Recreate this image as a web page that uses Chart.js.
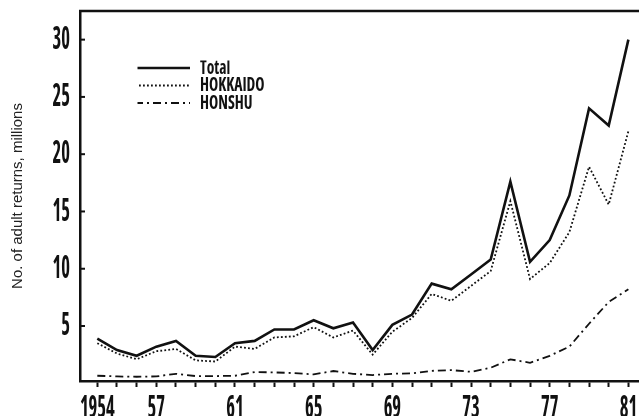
<!DOCTYPE html>
<html>
<head>
<meta charset="utf-8">
<script src="https://cdn.jsdelivr.net/npm/chart.js@4/dist/chart.umd.min.js"></script>
<style>
  html, body { margin: 0; padding: 0; background: #fff; }
  #wrap { width: 639px; height: 416px; }
</style>
</head>
<body>
<div id="wrap"><canvas id="c" width="639" height="416"></canvas></div>
<script>
// Adult chum salmon returns to Japan, by year (millions of fish)
const years = [1954, 1955, 1956, 1957, 1958, 1959, 1960, 1961, 1962, 1963, 1964, 1965, 1966, 1967,
               1968, 1969, 1970, 1971, 1972, 1973, 1974, 1975, 1976, 1977, 1978, 1979, 1980, 1981];
const total    = [3.9, 2.9, 2.4, 3.2, 3.7, 2.4, 2.3, 3.5, 3.7, 4.7, 4.7, 5.5, 4.8, 5.3,
                  2.9, 5.1, 6.0, 8.7, 8.2, 9.5, 10.8, 17.6, 10.6, 12.5, 16.4, 24.0, 22.5, 30.0];
const hokkaido = [3.5, 2.6, 2.1, 2.8, 3.0, 2.0, 1.9, 3.2, 3.0, 4.0, 4.1, 4.9, 4.0, 4.6,
                  2.5, 4.5, 5.7, 7.8, 7.2, 8.5, 9.8, 15.9, 9.1, 10.5, 13.2, 18.9, 15.6, 22.0];
const honshu   = [0.66, 0.60, 0.57, 0.60, 0.83, 0.63, 0.63, 0.66, 0.98, 0.95, 0.89, 0.78, 1.07, 0.83,
                  0.72, 0.83, 0.86, 1.09, 1.15, 1.00, 1.36, 2.09, 1.79, 2.40, 3.20, 5.20, 7.10, 8.20];

// Axis ticks and the year labels shown under the axis
const yTicks = [5, 10, 15, 20, 25, 30];
const labeledYears = [1954, 1957, 1961, 1965, 1969, 1973, 1977, 1981];
const yearLabels   = ['1954', '57', '61', '65', '69', '73', '77', '81'];

const seriesNames = ['Total', 'HOKKAIDO', 'HONSHU'];

// Tall, narrow lettering: condensed bold face, further narrowed per font size
const NARROW = "'Open Sans', 'Roboto Condensed', 'DejaVu Sans', sans-serif";
const NARROW_WEIGHT = 'bold condensed';
const TICK_SIZE = 32, LEGEND_SIZE = 20;
const textSqueeze = { [TICK_SIZE]: 0.58, [LEGEND_SIZE]: 0.78 };

const toPoints = arr => arr.map((v, i) => ({ x: years[i], y: v }));

// Horizontal narrowing of text drawn at the sizes listed in textSqueeze
const squeezePlugin = {
  id: 'squeeze',
  beforeInit(chart) {
    const ctx = chart.ctx;
    const orig = ctx.fillText.bind(ctx);
    ctx.fillText = function (text, x, y, maxW) {
      const m = /(\d+(?:\.\d+)?)px/.exec(ctx.font);
      const k = m ? textSqueeze[m[1]] : undefined;
      if (!k) return orig(text, x, y, maxW);
      ctx.save();
      ctx.translate(x, y);
      ctx.scale(k, 1);
      orig(text, 0, 0);
      ctx.restore();
    };
  }
};

// Top frame line and inward-pointing y tick marks
const framePlugin = {
  id: 'frame',
  afterDraw(chart) {
    const { ctx, chartArea } = chart;
    const ys = chart.scales.y;
    ctx.save();
    ctx.strokeStyle = '#111';
    ctx.lineWidth = 2.5;
    ctx.beginPath();
    ctx.moveTo(chartArea.left - 1, chartArea.top);
    ctx.lineTo(chartArea.right, chartArea.top);
    ctx.stroke();
    ctx.lineWidth = 2;
    yTicks.forEach(v => {
      const py = ys.getPixelForValue(v);
      ctx.beginPath();
      ctx.moveTo(chartArea.left, py);
      ctx.lineTo(chartArea.left + 5, py);
      ctx.stroke();
    });
    ctx.restore();
  }
};

// Place the legend inside the plot, upper left
const legendPlace = {
  id: 'legendPlace',
  afterLayout(chart) {
    const lg = chart.legend;
    const w = lg.width, h = lg.height;
    lg.left = 137.5; lg.top = 60.5;
    lg.right = lg.left + w; lg.bottom = lg.top + h;
  }
};

new Chart(document.getElementById('c'), {
  type: 'line',
  data: {
    datasets: [
      { label: seriesNames[0], data: toPoints(total), borderColor: '#111', borderWidth: 2.6,
        pointRadius: 0, tension: 0, borderJoinStyle: 'miter' },
      { label: seriesNames[1], data: toPoints(hokkaido), borderColor: '#111', borderWidth: 1.8,
        borderDash: [1.8, 2.2], pointRadius: 0, tension: 0 },
      { label: seriesNames[2], data: toPoints(honshu), borderColor: '#111', borderWidth: 1.8,
        borderDash: [8, 4, 2, 4], pointRadius: 0, tension: 0 }
    ]
  },
  options: {
    responsive: false,
    animation: false,
    devicePixelRatio: 1,
    layout: { padding: { top: 11, right: 0, left: 0, bottom: 0 } },
    plugins: {
      tooltip: { enabled: false },
      legend: {
        position: 'chartArea',
        align: 'start',
        labels: {
          usePointStyle: true,
          pointStyleWidth: 55,
          padding: -2.5,
          color: '#111',
          font: { family: NARROW, size: LEGEND_SIZE, weight: NARROW_WEIGHT },
          generateLabels(chart) {
            return chart.data.datasets.map((ds, i) => ({
              text: ds.label,
              fillStyle: 'rgba(0,0,0,0)',
              strokeStyle: ds.borderColor,
              lineWidth: ds.borderWidth,
              lineDash: ds.borderDash || [],
              pointStyle: 'line',
              fontColor: '#111',
              datasetIndex: i
            }));
          }
        }
      }
    },
    scales: {
      x: {
        type: 'linear',
        min: 1953.12,
        max: 1981.54,
        afterBuildTicks(scale) { scale.ticks = years.map(v => ({ value: v })); },
        afterFit(scale) { scale.height = 35; scale.paddingLeft = 0; scale.paddingRight = 0; },
        grid: { drawOnChartArea: false, drawTicks: true, tickLength: 6, tickWidth: 2, color: '#111' },
        border: { display: true, color: '#111', width: 2.5 },
        ticks: {
          autoSkip: false,
          maxRotation: 0,
          padding: 3,
          color: '#111',
          font: { family: NARROW, size: TICK_SIZE, weight: NARROW_WEIGHT },
          callback(v) {
            const k = labeledYears.indexOf(v);
            return k >= 0 ? yearLabels[k] : '';
          }
        }
      },
      y: {
        min: 0.2,
        max: 32.5,
        afterBuildTicks(scale) { scale.ticks = yTicks.map(v => ({ value: v })); },
        afterFit(scale) { scale.width = 80; scale.paddingTop = 0; scale.paddingBottom = 0; },
        grid: { drawOnChartArea: false, drawTicks: false },
        border: { display: true, color: '#111', width: 2.5 },
        ticks: {
          padding: 10,
          color: '#111',
          font: { family: NARROW, size: TICK_SIZE, weight: NARROW_WEIGHT }
        },
        title: {
          display: true,
          text: 'No. of adult returns, millions',
          color: '#222',
          font: { family: "'Liberation Sans', Arial, sans-serif", size: 15 },
          padding: { top: 9, bottom: 0 }
        }
      }
    }
  },
  plugins: [squeezePlugin, framePlugin, legendPlace]
});
</script>
</body>
</html>
